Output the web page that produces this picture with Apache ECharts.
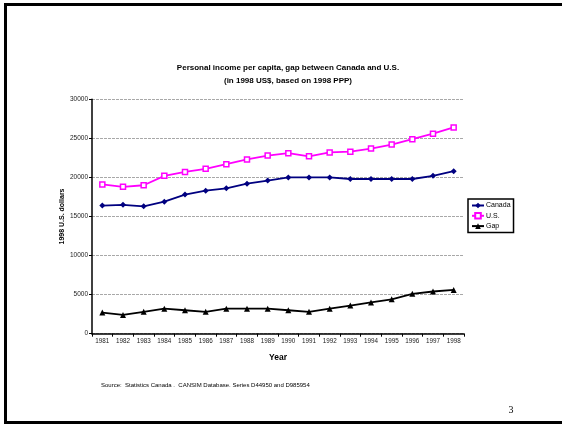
<!DOCTYPE html>
<html>
<head>
<meta charset="utf-8">
<script src="https://cdn.jsdelivr.net/npm/echarts@6/dist/echarts.min.js"></script>
<style>
html,body{margin:0;padding:0;background:#fff;}
#chart{width:562px;height:424px;}
</style>
</head>
<body>
<div id="chart"></div>
<script>
var years = ['1981','1982','1983','1984','1985','1986','1987','1988','1989','1990','1991','1992','1993','1994','1995','1996','1997','1998'];
var canada = [16400,16500,16300,16900,17800,18300,18600,19200,19600,20000,20000,20000,19800,19800,19800,19800,20200,20800];
var us = [19100,18800,19000,20200,20700,21100,21700,22300,22800,23100,22700,23200,23300,23700,24200,24900,25600,26400];
var gap = [2700,2400,2800,3200,3000,2800,3200,3200,3200,3000,2800,3200,3600,4000,4400,5100,5400,5600];
var yTicks = [0,5000,10000,15000,20000,25000,30000];

var chart = echarts.init(document.getElementById('chart'), null, {renderer:'canvas'});
var font = 'Liberation Sans, Arial, sans-serif';
chart.setOption({
  animation:false,
  backgroundColor:'#fff',
  title:{
    text:'Personal income per capita, gap between Canada and U.S.\n(in 1998 US$, based on 1998 PPP)',
    left:283, top:57, textAlign:'center',
    textStyle:{fontFamily:font,fontSize:8,fontWeight:'bold',color:'#000',lineHeight:12.5}
  },
  legend:{
    orient:'vertical', left:468, top:199,
    padding:[3,3,3,3], itemGap:3, itemWidth:12, itemHeight:7,
    borderColor:'#000', borderWidth:1.5,
    textStyle:{fontFamily:font,fontSize:7,color:'#000',padding:[0,0,0,-3]},
    data:['Canada','U.S.','Gap']
  },
  grid:{left:92,right:98,top:99.3,bottom:90.3},
  xAxis:{
    type:'category', data:years, boundaryGap:true,
    name:'Year', nameLocation:'middle', nameGap:19,
    nameTextStyle:{fontFamily:font,fontSize:8.5,fontWeight:'bold',color:'#000'},
    axisLine:{lineStyle:{color:'#000',width:1.5}},
    axisTick:{show:true,length:3,lineStyle:{color:'#000'}},
    axisLabel:{fontFamily:font,fontSize:6.3,color:'#222',margin:5,interval:0},
    splitLine:{show:false}
  },
  yAxis:{
    type:'value', min:yTicks[0], max:yTicks[yTicks.length-1], interval:5000,
    name:'1998 U.S. dollars', nameLocation:'middle', nameGap:26, nameMoveOverlap:false,
    nameTextStyle:{fontFamily:font,fontSize:7,fontWeight:'bold',color:'#000'},
    axisLine:{show:true,lineStyle:{color:'#000',width:1.5}},
    axisTick:{show:true,length:3,lineStyle:{color:'#000'}},
    axisLabel:{fontFamily:font,fontSize:6.5,color:'#222',margin:4,formatter:function(v){return String(v);}},
    splitLine:{show:true,lineStyle:{color:'#a8a8a8',type:[3,1],width:1}}
  },
  series:[
    {name:'Canada',type:'line',data:canada,symbol:'diamond',symbolSize:6,
     lineStyle:{color:'#000080',width:1.8},itemStyle:{color:'#000080'}},
    {name:'U.S.',type:'line',data:us,symbol:'rect',symbolSize:5,
     lineStyle:{color:'#FF00FF',width:1.8},itemStyle:{color:'#fff',borderColor:'#FF00FF',borderWidth:1.5}},
    {name:'Gap',type:'line',data:gap,symbol:'triangle',symbolSize:6,
     lineStyle:{color:'#000',width:1.8},itemStyle:{color:'#000'}}
  ],
  graphic:[
    {type:'rect',shape:{x:5.5,y:4.5,width:620,height:418},style:{fill:null,stroke:'#000',lineWidth:3},silent:true},
    {type:'text',x:101,y:385,style:{text:'Source:  Statistics Canada .  CANSIM Database. Series D44950 and D985954',fontFamily:font,fontSize:6,fill:'#000',verticalAlign:'middle'}},
    {type:'text',x:511,y:410,style:{text:'3',fontFamily:'Liberation Serif, Times New Roman, serif',fontSize:10,fill:'#000',align:'center',verticalAlign:'middle'}}
  ]
});
</script>
</body>
</html>
